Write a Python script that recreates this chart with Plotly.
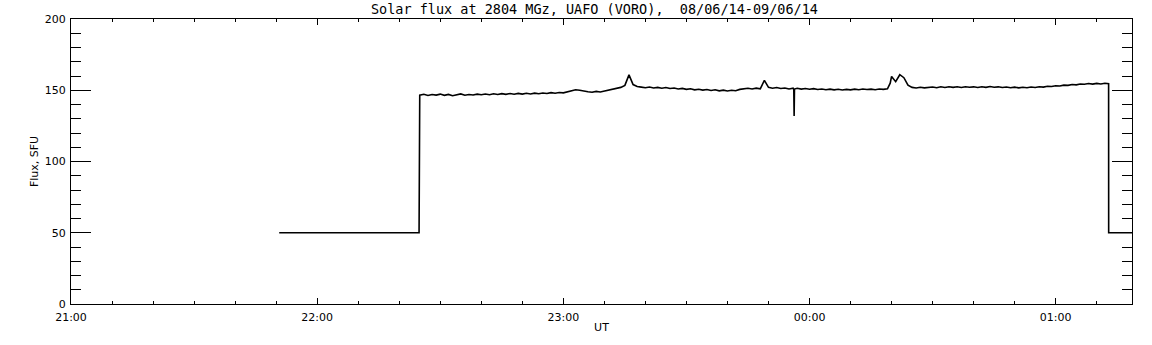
import pandas as pd
import plotly.graph_objects as go

# ---------------- data ----------------
# low-level (50 SFU) segment before observation start
pre_times = ["2014-06-08 21:50:45", "2014-06-08 22:24:50"]
pre_vals = [50, 50]

# main record, one reading per minute starting at 22:25
main_start = "2014-06-08 22:25:00"
main_vals = [
    146.5, 147.2, 146.3, 147.0, 146.6,
    147.3, 146.4, 147.1, 146.2, 146.9, 147.4, 146.5, 147.0, 146.7, 147.3,
    146.8, 147.4, 146.9, 147.5, 147.0, 147.6, 147.1, 147.7, 147.2, 147.8,
    147.3, 147.9, 147.4, 148.0, 147.6, 148.1, 147.7, 148.3, 147.9, 148.4,
    148.2, 148.9, 149.6, 150.3, 150.0, 149.3, 148.9, 148.6, 149.2, 148.8,
    149.4, 149.9, 150.6, 151.2, 152.0, 153.4, 160.8, 154.0, 152.6, 152.2,
    151.8, 152.3, 151.6, 152.0, 151.4, 151.9, 151.2, 151.6, 150.9, 151.3,
    150.6, 151.0, 150.3, 150.7, 150.1, 150.5, 149.8, 150.3, 149.6, 150.1,
    149.5, 150.0, 149.7, 150.6, 151.0, 151.4, 150.9, 151.5, 151.0, 157.0,
    152.0, 151.4, 151.9, 151.2, 151.6, 150.9, 151.5, 151.4, 150.8, 151.2,
    150.7, 151.1, 150.5, 150.9, 150.4, 150.8, 150.3, 150.7, 150.2, 150.6,
    150.3, 150.8, 150.4, 150.9, 150.5, 150.8, 150.4, 150.9, 150.6, 151.0,
    159.7, 156.0, 160.9, 158.8, 153.6, 152.0, 151.6, 152.1, 151.7, 152.2,
    152.3, 151.8, 152.4, 151.9, 152.5, 152.0, 152.4, 151.9, 152.5, 152.1,
    152.4, 151.9, 152.5, 152.0, 152.6, 152.1, 152.4, 151.9, 152.3, 151.8,
    152.2, 151.7, 152.1, 151.8, 152.3, 151.9, 152.5, 152.2, 152.8, 152.6,
    153.2, 153.0, 153.6, 153.4, 154.0, 153.8, 154.4, 154.2, 154.7, 154.3,
    154.8, 154.4, 154.9,
]

# short events between the minute readings
event_times = ["2014-06-08 23:56:10", "2014-06-08 23:56:15", "2014-06-08 23:56:20",
               "2014-06-09 00:19:40", "2014-06-09 01:12:54"]
event_vals = [150.6, 132.0, 150.8, 155.0, 154.6]

# after end of observation (back to 50 SFU)
post_times = ["2014-06-09 01:12:55", "2014-06-09 01:18:36"]
post_vals = [50, 50]

x_range = ["2014-06-08 21:00:00", "2014-06-09 01:18:36"]
y_range = [0, 200]

title = "Solar flux at 2804 MGz, UAFO (VORO),  08/06/14-09/06/14"
x_title = "UT"
y_title = "Flux, SFU"

# ---------------- build series ----------------
main_times = pd.date_range(main_start, periods=len(main_vals), freq="1min")
df = pd.concat([
    pd.DataFrame({"t": pd.to_datetime(pre_times), "v": pre_vals}),
    pd.DataFrame({"t": main_times, "v": main_vals}),
    pd.DataFrame({"t": pd.to_datetime(event_times), "v": event_vals}),
]).sort_values("t", kind="stable")
df = pd.concat([df, pd.DataFrame({"t": pd.to_datetime(post_times), "v": post_vals})])

fig = go.Figure()
fig.add_trace(go.Scatter(x=df["t"], y=df["v"], mode="lines",
                         line=dict(color="black", width=1.6), showlegend=False,
                         hoverinfo="skip"))

font = dict(family="DejaVu Sans", size=11, color="black")
fig.update_layout(
    width=1152, height=345,
    margin=dict(l=71, r=20, t=19, b=41, autoexpand=False),
    paper_bgcolor="white", plot_bgcolor="white",
    font=font,
    title=dict(text=title, x=0.516, xanchor="center", y=0.973, yanchor="middle",
               font=dict(family="DejaVu Sans Mono", size=13.5, color="black")),
)
fig.update_xaxes(
    type="date", range=x_range, automargin=False,
    tick0="2014-06-08 21:00:00", dtick=3600000, tickformat="%H:%M",
    ticks="inside", ticklen=6, tickwidth=1, tickcolor="black",
    minor=dict(dtick=600000, ticks="inside", ticklen=3, tickcolor="black", showgrid=False),
    showline=True, linecolor="black", linewidth=1, mirror="ticks",
    showgrid=False, zeroline=False, ticklabelstandoff=3,
    tickfont=dict(family="DejaVu Sans", size=11, color="black"),
    title=dict(text=x_title, standoff=0, font=dict(family="DejaVu Sans", size=11)),
)
fig.update_yaxes(
    range=y_range, tick0=0, dtick=50, automargin=False,
    ticks="inside", ticklen=20, tickwidth=1, tickcolor="black",
    minor=dict(dtick=10, ticks="inside", ticklen=10, tickcolor="black", showgrid=False),
    showline=True, linecolor="black", linewidth=1, mirror="ticks",
    showgrid=False, zeroline=False, ticklabelstandoff=2,
    tickfont=dict(family="DejaVu Sans", size=11, color="black"),
    title=dict(text=y_title, standoff=3, font=dict(family="DejaVu Sans", size=11)),
)

# remove the browser's default 8px page margin so the figure sits at the corner
fig.write_html("out.html", config={"displayModeBar": False},
               post_script="document.body.style.margin='0';document.body.style.overflow='hidden';")
